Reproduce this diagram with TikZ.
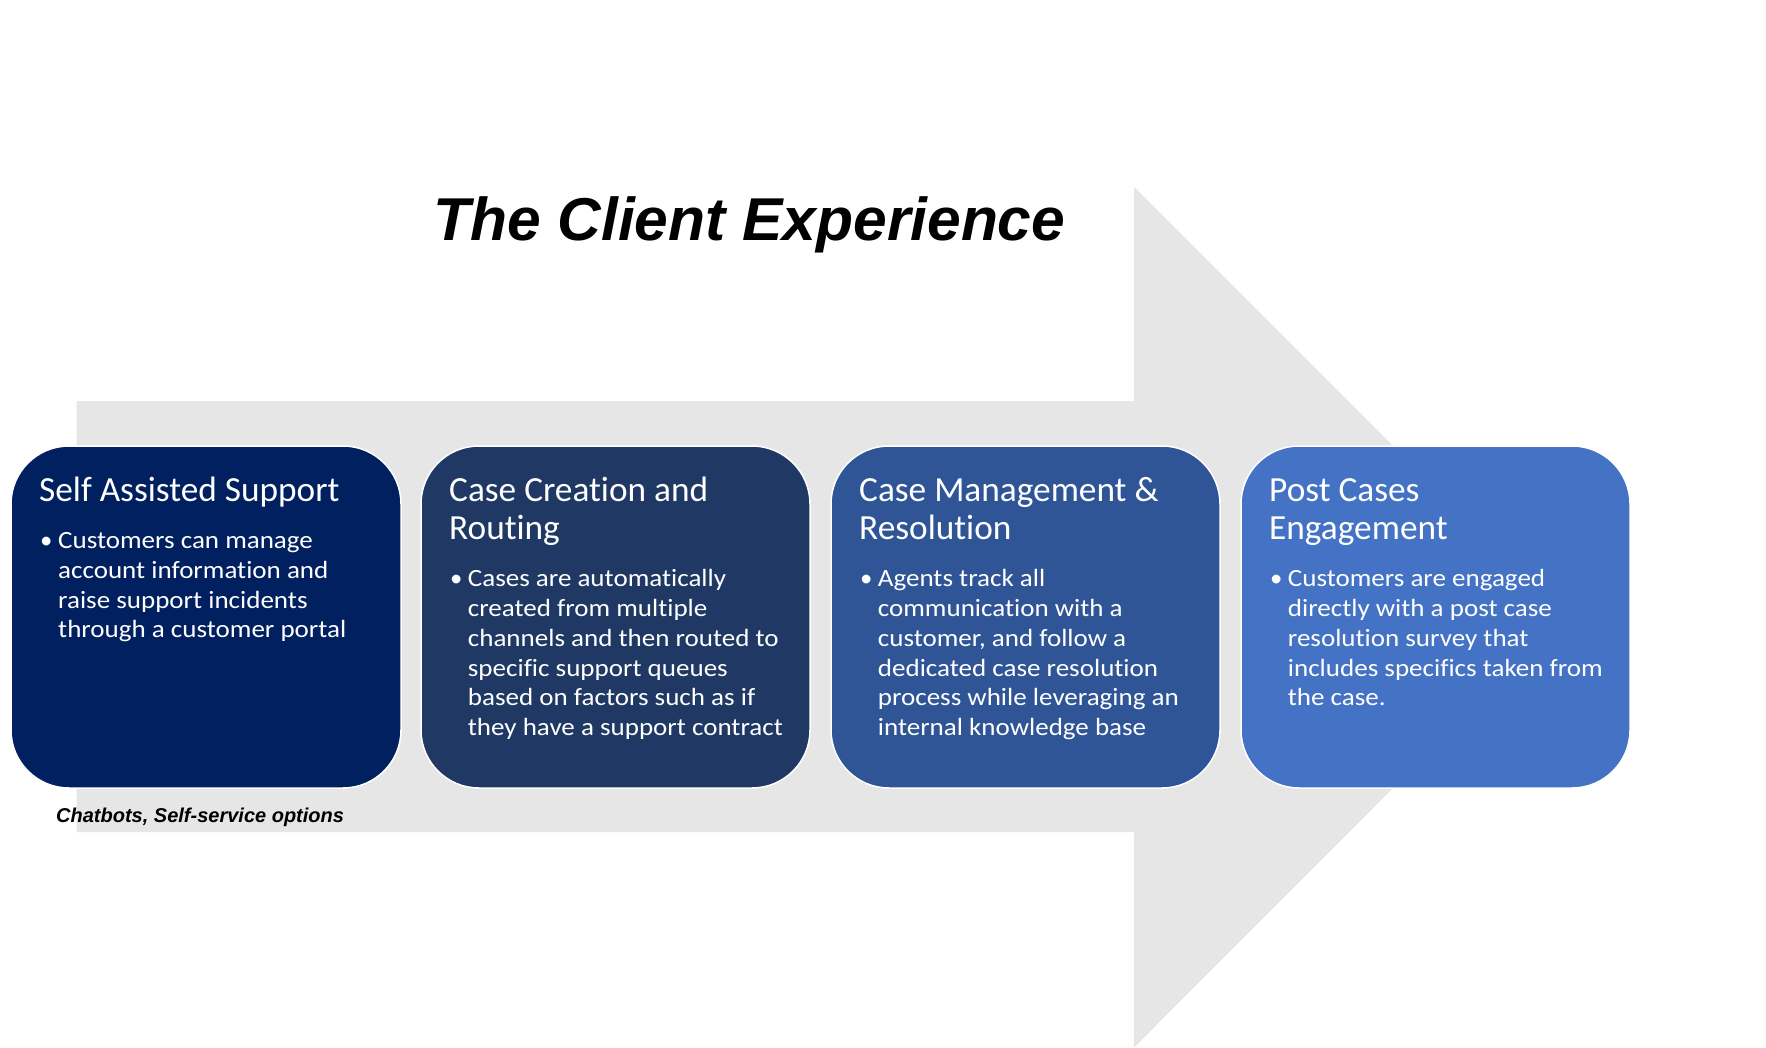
\documentclass[tikz,border=0pt]{standalone}
\usepackage{fontspec}
\setmainfont[Ligatures={NoCommon}]{Carlito}
\newfontfamily\bodyfont[FakeStretch=1.09,Ligatures={NoCommon}]{Carlito}
\newfontfamily\arialfont{Liberation Sans}
\definecolor{arrowgray}{RGB}{230,230,230}
\definecolor{boxA}{RGB}{0,32,96}
\definecolor{boxB}{RGB}{31,56,100}
\definecolor{boxC}{RGB}{47,85,151}
\definecolor{boxD}{RGB}{68,114,196}
\tikzset{
  card/.style={draw=white, line width=1.5pt, rounded corners=58pt},
  headtxt/.style={anchor=base west, inner sep=0pt, text=white, align=left,
     font=\fontsize{35.3}{38.5}\selectfont},
  bodytxt/.style={anchor=base west, inner sep=0pt, text=white, align=left,
     font=\bodyfont\fontsize{24.8}{29.8}\selectfont},
  bullettxt/.style={anchor=base west, inner sep=0pt, text=white,
     font=\fontsize{24.8}{29.8}\selectfont},
  titletxt/.style={anchor=base west, inner sep=0pt,
     font=\arialfont\bfseries\itshape\fontsize{60.5}{70}\selectfont},
  captxt/.style={anchor=base west, inner sep=0pt,
     font=\arialfont\bfseries\itshape\fontsize{20}{24}\selectfont}
}
\begin{document}
\begin{tikzpicture}[x=1pt,y=-1pt]
\useasboundingbox (0,0) rectangle (1766,1048);
\fill[white] (0,0) rectangle (1766,1048);
% big arrow
\fill[arrowgray] (76.6,401) -- (1134,401) -- (1134,187) -- (1564,617)
  -- (1134,1047.5) -- (1134,832) -- (76.6,832) -- cycle;
% title
\node[titletxt] (title) at (433,240.7) {The Client Experience};
% boxes
\fill[boxA, card] (11,446) rectangle (401,788);
\fill[boxB, card] (421,446) rectangle (810,788);
\fill[boxC, card] (831,446) rectangle (1220,788);
\fill[boxD, card] (1241,446) rectangle (1630,788);
% (base anchor of a multi-line node = baseline of its last line)
% box 1
\node[headtxt] (h1) at (39,501) {Self Assisted Support};
\node[bullettxt] (b1) at (40,548.5) {\textbullet};
\node[bodytxt] (t1) at (58,637.9) {Customers can manage\\account information and\\raise support incidents\\through a customer portal};
% box 2
\node[headtxt] (h2) at (449,539.5) {Case Creation and\\Routing};
\node[bullettxt] (b2) at (450,586.7) {\textbullet};
\node[bodytxt] (t2) at (467.7,735.7) {Cases are automatically\\created from multiple\\channels and then routed to\\specific support queues\\based on factors such as if\\they have a support contract};
% box 3
\node[headtxt] (h3) at (859,539.5) {Case Management \&\\Resolution};
\node[bullettxt] (b3) at (860,586.7) {\textbullet};
\node[bodytxt] (t3) at (877.7,735.7) {Agents track all\\communication with a\\customer, and follow a\\dedicated case resolution\\process while leveraging an\\internal knowledge base};
% box 4
\node[headtxt] (h4) at (1269,539.5) {Post Cases\\Engagement};
\node[bullettxt] (b4) at (1270,586.7) {\textbullet};
\node[bodytxt] (t4) at (1287.7,705.9) {Customers are engaged\\directly with a post case\\resolution survey that\\includes specifics taken from\\the case.};
% caption
\node[captxt] (cap) at (56,822.7) {Chatbots, Self-service options};
\end{tikzpicture}
\end{document}
